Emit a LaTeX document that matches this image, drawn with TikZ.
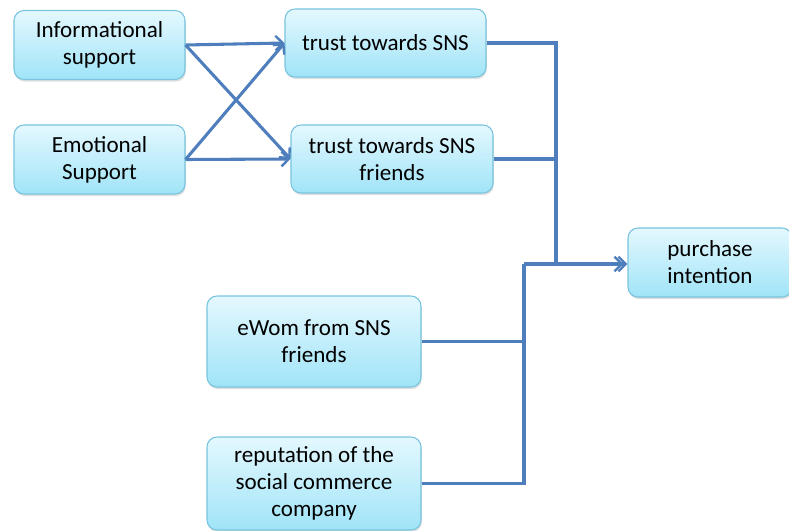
\documentclass[tikz,border=0pt]{standalone}
\usepackage{fontspec}
\setmainfont{Carlito}
\usetikzlibrary{arrows.meta,shadows}

\definecolor{boxtop}{RGB}{228,248,254}
\definecolor{boxbottom}{RGB}{160,228,248}
\definecolor{boxline}{RGB}{120,196,222}
\definecolor{linkblue}{RGB}{79,126,189}

\tikzset{
  factor/.style={rounded corners=7.5pt, draw=boxline, line width=0.8pt,
    top color=boxtop, bottom color=boxbottom, align=center, inner sep=0pt,
    font=\fontsize{17.3pt}{20.3pt}\selectfont,
    drop shadow={shadow xshift=0.6pt, shadow yshift=-1.6pt, opacity=0.25}},
  link/.style={draw=linkblue, line width=2.3pt},
  arrowlink/.style={link, -{Straight Barb[length=5.5pt,width=11pt,line width=1.8pt]}}
}

\begin{document}
\begin{tikzpicture}[x=0.75pt,y=-0.75pt]
\useasboundingbox (0,0) rectangle (789,531);
\node (info) [factor, minimum width=128.25pt, minimum height=51.75pt] at (99.5,45) {Informational\\support};
\node (emotion) [factor, minimum width=128.25pt, minimum height=51.75pt] at (99.5,159.5) {Emotional\\Support};
\node (trustsns) [factor, minimum width=150.75pt, minimum height=51pt] at (385.5,43) {trust towards SNS};
\node (trustfriends) [factor, minimum width=151.5pt, minimum height=51pt] at (392,159) {trust towards SNS\\friends};
\node (purchase) [factor, minimum width=123pt, minimum height=51.75pt] at (710,262.5) {purchase\\intention};
\node (ewom) [factor, minimum width=160.5pt, minimum height=68.25pt] at (314,341.5) {eWom from SNS\\friends};
\node (reputation) [factor, minimum width=160.5pt, minimum height=69.75pt] at (314,483.5) {reputation of the\\social commerce\\company};

\coordinate (join) at (556,264);
\coordinate (lowjoin) at (524,264);

\draw [arrowlink] (info.east) -- (trustsns.west);
\draw [arrowlink] (info.east) -- (trustfriends.west);
\draw [arrowlink] (emotion.east) -- (trustsns.west);
\draw [arrowlink] (emotion.east) -- (trustfriends.west);

\draw [link] (trustsns.east) -| (join);
\draw [link] (trustfriends.east) -- (trustfriends.east -| join);
\draw [link] (ewom.east) -| (lowjoin);
\draw [link] (reputation.east) -| (lowjoin);
\draw [arrowlink, shorten >=3pt] (lowjoin) -- (lowjoin -| purchase.west);
\draw [arrowlink] (join) -- (join -| purchase.west);
\end{tikzpicture}
\end{document}
